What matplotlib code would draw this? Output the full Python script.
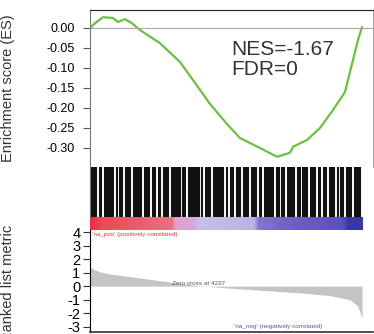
import numpy as np
import matplotlib
matplotlib.use("Agg")
import matplotlib.pyplot as plt
from matplotlib.colors import LinearSegmentedColormap

plt.rcParams['font.family'] = ['Liberation Sans', 'DejaVu Sans']

# ---- data ----
es_rank = [0, 184, 478, 845, 1029, 1286, 1543, 1837, 2572, 3307, 3785, 4410, 5034,
           5512, 6247, 6872, 7350, 7460, 7975, 8452, 8930, 9371, 9665, 9848, 9995]
es_value = [0.0, 0.012, 0.027, 0.025, 0.015, 0.022, 0.012, -0.005, -0.038, -0.085,
            -0.13, -0.19, -0.24, -0.275, -0.30, -0.322, -0.312, -0.297, -0.28,
            -0.25, -0.205, -0.16, -0.08, -0.03, 0.002]

hit_ranks = [0, 70, 140, 210, 350, 420, 560, 630, 700, 770, 840, 980, 1120, 1190, 1330,
             1400, 1470, 1610, 1680, 1750, 1820, 1890, 2030, 2100, 2170, 2310, 2380,
             2520, 2590, 2730, 2800, 2870, 3010, 3080, 3150, 3220, 3290, 3430, 3500,
             3640, 3710, 3780, 3850, 3920, 3990, 4130, 4270, 4340, 4410, 4550, 4620,
             4690, 4760, 4830, 4900, 5040, 5180, 5250, 5390, 5460, 5530, 5670, 5740,
             5810, 5950, 6020, 6090, 6230, 6300, 6440, 6510, 6580, 6650, 6720, 6860,
             6930, 7070, 7140, 7280, 7350, 7420, 7490, 7630, 7700, 7840, 7910, 7980,
             8120, 8190, 8260, 8400, 8470, 8610, 8680, 8820, 8890, 8960, 9100, 9240,
             9310, 9450, 9520, 9590, 9730, 9800, 9870, 9940]

metric_rank = [0, 184, 368, 735, 1470, 2205, 2940, 3675, 4227, 5145, 6248, 7718,
               8820, 9555, 9849, 9996]
metric_value = [1.4, 1.2, 1.05, 0.9, 0.7, 0.5, 0.3, 0.1, 0.0, -0.15, -0.3, -0.5,
                -0.7, -1.0, -1.5, -2.4]

bar_stops = [0.0, 0.04, 0.30, 0.31, 0.38, 0.40, 0.60, 0.62, 0.75, 0.93, 0.95, 1.0]
bar_colors = ['#e8303a', '#e84a58', '#ec7080', '#e4a0c8', '#d4a8dc', '#c4c0e6',
              '#b8b4e2', '#8078cc', '#6a60c4', '#5a50b8', '#3a38a8', '#3636a4']

es_ticks = [0.0, -0.05, -0.10, -0.15, -0.20, -0.25, -0.30]
metric_ticks = [4, 3, 2, 1, 0, -1, -2, -3]
n_genes = 10000
zero_cross = 4227
nes_text = "NES=-1.67"
fdr_text = "FDR=0"

# ---- figure ----
W, H = 374, 334
fig = plt.figure(figsize=(W / 100, H / 100), dpi=100)

def ax_px(x0, y0, x1, y1):
    return fig.add_axes([x0 / W, 1 - y1 / H, (x1 - x0) / W, (y1 - y0) / H])

xmax = 10400

# ES panel
ax1 = ax_px(90, 10, 373, 167)
ax1.plot(es_rank, es_value, color='#6cc040', lw=1.6)
ax1.axhline(0, color='#b0a8a8', lw=0.8)
ax1.set_xlim(0, xmax)
ax1.set_ylim(-0.3475, 0.045)
ax1.set_yticks(es_ticks)
ax1.set_yticklabels([f"{t:.2f}" for t in es_ticks], fontsize=9)
ax1.set_xticks([])
ax1.tick_params(axis='y', length=5, width=0.8, color='#555555', pad=6)
ax1.spines['bottom'].set_visible(False)
ax1.spines['left'].set_color('#777777')
ax1.spines['right'].set_color('#aaaaaa')
ax1.spines['top'].set_color('#222222')
ax1.set_ylabel("Enrichment score (ES)", fontsize=10.5, color='#333333')
ax1.yaxis.set_label_coords(-75 / 283, 0.5)
ax1.text(5190, -0.053, nes_text, fontsize=15, color='#333333', va='center')
ax1.text(5190, -0.103, fdr_text, fontsize=15, color='#333333', va='center')

# hits panel
ax2 = ax_px(90, 167, 373, 217)
ax2.vlines(hit_ranks, 0, 1, color='#111111', lw=1.5)
ax2.set_xlim(0, xmax)
ax2.set_ylim(0, 1)
ax2.set_xticks([])
ax2.set_yticks([])
for s in ['top', 'right', 'bottom']:
    ax2.spines[s].set_visible(False)
ax2.spines['left'].set_color('#777777')

# colour bar
ax3 = ax_px(90, 217, 373, 230)
cmap = LinearSegmentedColormap.from_list('rb', list(zip(bar_stops, bar_colors)))
ax3.imshow(np.linspace(0, 1, 300)[None, :], aspect='auto', cmap=cmap,
           extent=[0, n_genes, 0, 1])
ax3.set_xlim(0, xmax)
ax3.set_ylim(0, 1)
ax3.axis('off')

# ranked metric panel
ax4 = ax_px(90, 230, 373, 332)
ax4.fill_between(metric_rank, metric_value, 0, color='#c4c4c4', lw=0)
ax4.set_xlim(0, xmax)
ax4.set_ylim(-3.39, 4.15)
ax4.set_yticks(metric_ticks)
ax4.set_yticklabels([str(t) for t in metric_ticks], fontsize=10.5)
ax4.set_xticks([])
ax4.tick_params(axis='y', length=5, width=0.8, color='#333333', pad=2)
ax4.spines['top'].set_visible(False)
ax4.spines['right'].set_visible(False)
ax4.spines['bottom'].set_color('#333333')
ax4.spines['bottom'].set_linewidth(1.2)
ax4.set_ylabel("Ranked list metric", fontsize=10.5, color='#333333')
ax4.yaxis.set_label_coords(-75 / 283, 0.48)
ax4.text(60, 3.85, "'na_pos' (positively correlated)", fontsize=4.6,
         color='#e03838', va='center')
ax4.text(zero_cross - 1200, 0.22, f"Zero cross at {zero_cross}", fontsize=4.6,
         color='#555555', va='center')
ax4.text(5300, -2.95, "'na_neg' (negatively correlated)", fontsize=4.6,
         color='#5a50b0', va='center')

fig.savefig("out.png", dpi=100)
